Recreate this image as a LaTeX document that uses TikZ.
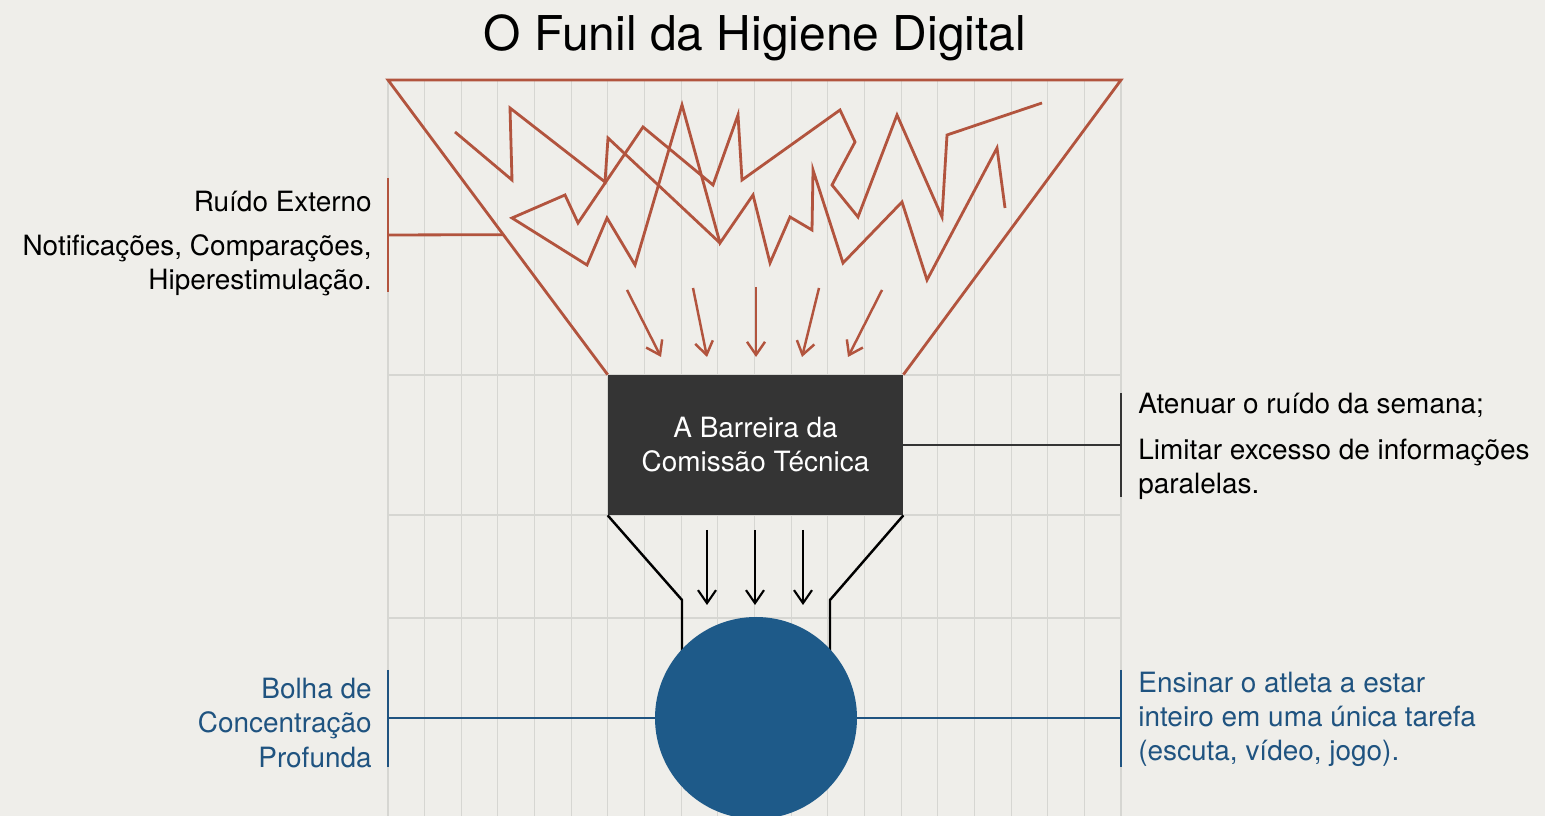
\documentclass[tikz,border=0pt]{standalone}
\usepackage{fontspec}
\setmainfont{TeX Gyre Heros}
\usepackage{tikz}
\usepackage{xcolor}
\definecolor{fundo}{RGB}{239,238,234}
\definecolor{grade}{RGB}{214,214,210}
\definecolor{ruido}{RGB}{178,84,62}
\definecolor{barreira}{RGB}{52,52,52}
\definecolor{bolha}{RGB}{30,90,137}
\definecolor{azul}{RGB}{31,83,128}
\usetikzlibrary{calc}
\usetikzlibrary{arrows.meta}

\begin{document}
\begin{tikzpicture}[
  rotulo/.style={font=\fontsize{15.9}{19.4}\selectfont, inner sep=0pt},
  traco/.style={line width=1.6pt, line join=miter},
  >={Straight Barb[length=2.6mm, width=3.6mm]}
]
\fill[fundo] (0, 0) rectangle (30.9, 16.32);
\useasboundingbox (0, 0) rectangle (30.9, 16.32);

% grade
\foreach \i in {0,...,20}
  \draw[grade, line width=0.6pt] ({7.76+0.733*\i}, 14.72) -- ({7.76+0.733*\i}, 0);
\foreach \y in {8.82, 6.02, 3.96}
  \draw[grade, line width=0.6pt] (7.76, \y) -- (22.42, \y);

\node[font=\fontsize{27.3}{32}\selectfont] (titulo) at (15.1, 15.56) {O Funil da Higiene Digital};

% funil de cima
\coordinate (topo-esq) at (7.76, 14.72);
\coordinate (topo-dir) at (22.42, 14.72);
\node[fill=barreira, text=white, minimum width=5.9cm, minimum height=2.8cm, align=center, rotulo] (barreira) at (15.11, 7.42) {A Barreira da\\Comissão Técnica};
\draw[ruido, traco] (barreira.north west) -- (topo-esq) -- (topo-dir) -- (barreira.north east);

% ruido
\draw[ruido, traco] (9.1, 13.68) -- (10.24, 12.72) -- (10.2, 14.16) -- (12.1, 12.68) -- (12.16, 13.56) -- (14.4, 11.46);
\draw[ruido, traco] (20.84, 14.26) -- (18.94, 13.62) -- (18.84, 11.98) -- (17.94, 14.02) -- (17.16, 11.98) -- (16.64, 12.62) -- (17.1, 13.48) -- (16.8, 14.12) -- (14.84, 12.72) -- (14.76, 14.02) -- (14.26, 12.62) -- (12.86, 13.78) -- (11.56, 11.86) -- (11.3, 12.42) -- (10.24, 11.96) -- (11.74, 11.02) -- (12.14, 11.96) -- (12.7, 11.02) -- (13.64, 14.22) -- (14.4, 11.46) -- (15.06, 12.42) -- (15.4, 11.06) -- (15.8, 11.98) -- (16.24, 11.72) -- (16.26, 12.92) -- (16.86, 11.06) -- (18.04, 12.28) -- (18.54, 10.72) -- (19.94, 13.36) -- (20.1, 12.16);

\foreach \xa/\ya/\xb in {12.54/10.52/13.22, 13.86/10.56/14.14, 15.12/10.58/15.12, 16.38/10.56/16.04, 17.64/10.52/16.96}
  \draw[ruido, line width=1.4pt, ->] (\xa, \ya) -- (\xb, 9.18);

% ruido externo
\coordinate (ruido-ponta) at ($(topo-esq)!0.525!(barreira.north west)$);
\coordinate (ruido-marca) at (7.76, 11.62);
\draw[ruido, traco] (7.76, 12.76) -- (7.76, 10.48);
\draw[ruido, traco] (ruido-marca) -- (ruido-ponta);
\node[rotulo, anchor=east] (ruido-titulo) at (7.44, 12.28) {Ruído Externo};
\node[rotulo, anchor=east, align=right] (ruido-texto) at (7.44, 11.01) {Notificações, Comparações,\\Hiperestimulação.};

% funil de baixo
\draw[black, line width=1.4pt] (barreira.south west) -- (13.64, 4.32) -- (13.64, 2.6);
\draw[black, line width=1.4pt] (barreira.south east) -- (16.6, 4.32) -- (16.6, 2.6);
\node[circle, fill=bolha, minimum size=4.04cm, inner sep=0pt] (bolha) at (15.12, 1.96) {};
\foreach \x in {14.14, 15.1, 16.06}
  \draw[black, line width=1.2pt, ->] (\x, 5.72) -- (\x, 4.22);

% barreira
\coordinate (barreira-marca) at (22.42, 7.42);
\draw[barreira, traco] (22.42, 8.46) -- (22.42, 6.38);
\draw[barreira, line width=1.4pt] (barreira.east) -- (barreira-marca);
\node[rotulo, anchor=west] (barreira-titulo) at (22.76, 8.22) {Atenuar o ruído da semana;};
\node[rotulo, anchor=west, align=left] (barreira-texto) at (22.76, 6.93) {Limitar excesso de informações\\paralelas.};

% bolha
\coordinate (bolha-esq) at (7.76, 1.96);
\coordinate (bolha-dir) at (22.42, 1.96);
\draw[azul, traco] (7.76, 2.92) -- (7.76, 0.98);
\draw[azul, traco] (22.42, 2.92) -- (22.42, 0.98);
\draw[azul, line width=1.4pt] (bolha.west) -- (bolha-esq);
\draw[azul, line width=1.4pt] (bolha.east) -- (bolha-dir);
\node[rotulo, anchor=east, align=right, text=azul] (bolha-titulo) at (7.44, 1.86) {Bolha de\\Concentração\\Profunda};
\node[rotulo, anchor=west, align=left, text=azul] (bolha-texto) at (22.76, 1.94) {Ensinar o atleta a estar\\inteiro em uma única tarefa\\(escuta, vídeo, jogo).};
\end{tikzpicture}
\end{document}
